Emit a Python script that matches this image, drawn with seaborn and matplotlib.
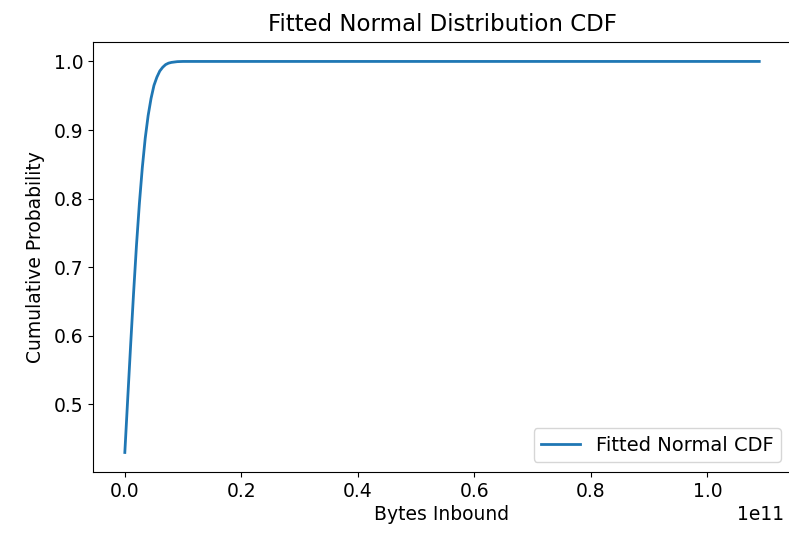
import matplotlib
matplotlib.use("Agg")
import matplotlib.pyplot as plt
import seaborn as sns
import pandas as pd

# Values (x in bytes)
bytes_inbound = [0.0, 0.5e9, 1.0e9, 1.5e9, 2.0e9, 2.5e9, 3.0e9, 3.5e9, 4.0e9, 4.5e9,
                 5.0e9, 5.5e9, 6.0e9, 6.5e9, 7.0e9, 7.5e9, 8.0e9, 9.0e9, 10.0e9,
                 12.0e9, 20.0e9, 40.0e9, 60.0e9, 80.0e9, 100.0e9, 108.9e9]
cum_prob = [0.430, 0.509, 0.587, 0.662, 0.732, 0.793, 0.845, 0.888, 0.921, 0.946,
            0.965, 0.977, 0.986, 0.9915, 0.9954, 0.9975, 0.9986, 0.9997, 1.0,
            1.0, 1.0, 1.0, 1.0, 1.0, 1.0, 1.0]

df = pd.DataFrame({"x": bytes_inbound, "y": cum_prob})

fig = plt.figure(figsize=(7.89, 5.37), dpi=100)
ax = fig.add_axes([0.118, 0.121, 0.8845, 0.801])
sns.lineplot(data=df, x="x", y="y", ax=ax, color="#1f77b4", linewidth=2,
             label="Fitted Normal CDF")
ax.set_title("Fitted Normal Distribution CDF", fontsize=16.5, pad=8)
ax.set_xlabel("Bytes Inbound", fontsize=13.5, labelpad=3)
ax.set_ylabel("Cumulative Probability", fontsize=13.5, labelpad=6)
ax.tick_params(labelsize=13.5)
off = ax.xaxis.get_offset_text()
off.set_fontsize(13.5)
off.set_x(0.99)
ax.legend(loc="lower right", fontsize=14, borderaxespad=0.5)
fig.savefig("out.png", dpi=100)
